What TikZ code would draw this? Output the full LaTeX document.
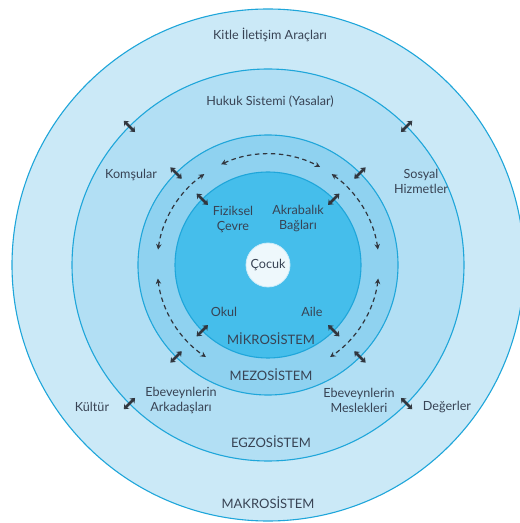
\documentclass[tikz,border=0pt]{standalone}
\usepackage{fontspec}
\setmainfont{Lato}
\usetikzlibrary{arrows.meta}
\definecolor{macroC}{HTML}{CBE9F7}
\definecolor{exoC}{HTML}{B2DFF4}
\definecolor{mesoC}{HTML}{8FD2F0}
\definecolor{microC}{HTML}{45BEEB}
\definecolor{childC}{HTML}{EEF8FC}
\definecolor{ringline}{HTML}{1FA6DA}
\definecolor{txt}{HTML}{384354}
\definecolor{arr}{HTML}{31363E}
\tikzset{
  ring/.style={draw=ringline, line width=1.1pt},
  lbl/.style={text=txt, font=\fontsize{12.6}{15}\selectfont, align=center, inner sep=0pt},
  sys/.style={text=txt, font=\fontsize{13}{15}\selectfont, inner sep=0pt},
  dbl/.style={draw=arr, line width=2.5pt, {Stealth[length=4.5pt,width=7pt]}-{Stealth[length=4.5pt,width=7pt]}},
  dsh/.style={draw=arr, line width=1.2pt, dash pattern=on 4.5pt off 3.5pt, {Stealth[length=5.5pt,width=5.5pt]}-{Stealth[length=5.5pt,width=5.5pt]}}
}
\begin{document}
\begin{tikzpicture}[x=1pt,y=1pt]
\useasboundingbox (0,0) rectangle (520,523);
\clip (0,0) rectangle (520,523);
\fill[white] (0,0) rectangle (520,523);
\coordinate (C) at (268,258);
% rings
\fill[macroC] (C) circle[radius=256pt];
\draw[ring] (C) circle[radius=256pt];
\fill[exoC] (C) circle[radius=196pt];
\draw[ring] (C) circle[radius=196pt];
\fill[mesoC] (C) circle[radius=130pt];
\draw[ring] (C) circle[radius=130pt];
\fill[microC] (C) circle[radius=93pt];
\draw[ring] (C) circle[radius=93pt];
\node[circle, fill=childC, draw=childC!80!microC, line width=0.8pt, minimum size=44pt, inner sep=0pt, text=txt, font=\fontsize{12.6}{15}\selectfont] (cocuk) at (C) {Çocuk};
% double arrows across rings
\foreach \r/\n in {93/mi,130/me,196/ex}{
  \foreach \a in {45,135,225,315}{
    \coordinate (\n-\a-in) at ([shift={(\a:{\r-8})}]C);
    \coordinate (\n-\a-out) at ([shift={(\a:{\r+8})}]C);
    \draw[dbl] (\n-\a-in) -- (\n-\a-out);
  }
}
% dashed arcs in mesosystem
\foreach \s/\e/\n in {115/62/top,125/172/ul,187/236/ll,55/8/ur,-7/-56/lr}{
  \coordinate (d-\n) at ([shift={(\s:111)}]C);
  \draw[dsh] (d-\n) arc[start angle=\s, end angle=\e, radius=111pt];
}
% labels
\node[lbl] (kitle) at (270,488) {Kitle İletişim Araçları};
\node[lbl] (hukuk) at (270,421) {Hukuk Sistemi (Yasalar)};
\node[lbl] (komsu) at (131,348) {Komşular};
\node[lbl] (sosyal) at (421,342) {Sosyal\\Hizmetler};
\node[lbl] (fiz) at (233,304) {Fiziksel\\Çevre};
\node[lbl] (akr) at (298,304) {Akrabalık\\Bağları};
\node[lbl] (okul) at (224,211) {Okul};
\node[lbl] (aile) at (312,211) {Aile};
\node[sys] (mikro) at (271,184) {MİKROSİSTEM};
\node[sys] (mezo) at (271,148) {MEZOSİSTEM};
\node[lbl] (ark) at (181,123) {Ebeveynlerin\\Arkadaşları};
\node[lbl] (kultur) at (92,116) {Kültür};
\node[lbl] (mes) at (359,123) {Ebeveynlerin\\Meslekleri};
\node[lbl] (deger) at (447,116) {Değerler};
\node[sys] (egzo) at (271,81) {EGZOSİSTEM};
\node[sys] (makro) at (268,20) {MAKROSİSTEM};
\end{tikzpicture}
\end{document}
